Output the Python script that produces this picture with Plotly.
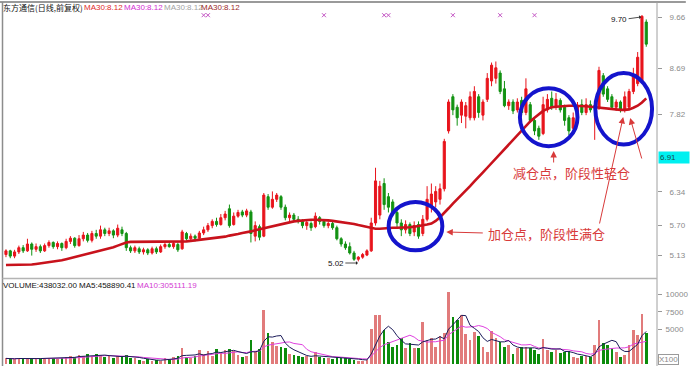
import plotly.graph_objects as go
import pandas as pd

# ---------------- data ----------------
opens = [5.15, 5.22, 5.12, 5.20, 5.28, 5.22, 5.35, 5.25, 5.30, 5.22,
         5.32, 5.38, 5.30, 5.36, 5.28, 5.40, 5.46, 5.32, 5.45, 5.52,
         5.42, 5.55, 5.50, 5.62, 5.55, 5.60, 5.52, 5.62, 5.55, 5.28,
         5.22, 5.26, 5.20, 5.24, 5.18, 5.26, 5.20, 5.30, 5.34, 5.30,
         5.34, 5.26, 5.55, 5.45, 5.50, 5.46, 5.56, 5.62, 5.70, 5.78,
         5.72, 5.85, 6.02, 5.72, 5.88, 5.96, 5.90, 5.96, 5.50, 5.68,
         5.50, 6.25, 6.05, 6.20, 6.25, 6.05, 5.85, 5.90, 5.82, 5.78,
         5.70, 5.74, 5.68, 5.85, 5.78, 5.70, 5.74, 5.66, 5.45, 5.35,
         5.30, 5.18, 5.06, 5.10, 5.14, 5.22, 5.75, 5.90, 6.50, 6.25,
         6.15, 5.95, 5.75, 5.62, 5.72, 5.58, 5.72, 5.55, 5.82, 6.05,
         6.15, 6.20, 6.40, 7.50, 8.15, 7.95, 7.80, 7.78, 7.75, 7.75,
         8.15, 7.80, 8.10, 8.45, 8.50, 8.60, 8.30, 7.98, 8.05, 7.90,
         8.08, 7.85, 8.00, 7.70, 7.55, 7.45, 7.90, 8.12, 7.95, 8.08,
         7.95, 7.75, 7.55, 7.80, 8.00, 7.85, 8.00, 7.95, 7.95, 8.55,
         8.30, 8.15, 7.95, 8.05, 7.90, 7.95, 8.25, 8.40, 8.45, 9.57]
closes = [5.22, 5.12, 5.20, 5.28, 5.22, 5.35, 5.25, 5.30, 5.22, 5.32,
          5.38, 5.30, 5.36, 5.28, 5.40, 5.46, 5.32, 5.45, 5.52, 5.42,
          5.55, 5.50, 5.62, 5.55, 5.60, 5.52, 5.65, 5.55, 5.28, 5.22,
          5.28, 5.20, 5.24, 5.18, 5.26, 5.20, 5.30, 5.34, 5.30, 5.36,
          5.24, 5.58, 5.45, 5.50, 5.46, 5.56, 5.62, 5.70, 5.78, 5.72,
          5.85, 5.92, 5.70, 5.88, 5.95, 5.90, 5.98, 5.55, 5.70, 5.48,
          6.28, 6.05, 6.20, 6.28, 6.05, 5.85, 5.90, 5.82, 5.78, 5.70,
          5.76, 5.66, 5.88, 5.78, 5.70, 5.74, 5.66, 5.45, 5.35, 5.28,
          5.18, 5.06, 5.10, 5.15, 5.22, 5.75, 6.55, 6.45, 6.10, 6.05,
          5.95, 5.75, 5.62, 5.72, 5.55, 5.70, 5.50, 5.82, 6.20, 6.30,
          6.35, 6.40, 7.30, 8.05, 7.90, 7.75, 8.05, 7.98, 8.15, 8.25,
          7.85, 8.05, 8.50, 8.75, 8.70, 8.25, 7.98, 8.05, 7.88, 8.05,
          7.85, 8.30, 7.70, 7.50, 7.40, 8.00, 8.10, 7.95, 8.10, 7.90,
          7.70, 7.50, 7.75, 7.98, 7.85, 8.00, 7.90, 7.98, 8.65, 8.20,
          8.10, 7.95, 8.05, 7.90, 8.15, 8.25, 8.55, 8.90, 9.68, 9.15]
highs = [5.25, 5.24, 5.24, 5.32, 5.33, 5.45, 5.38, 5.36, 5.34, 5.36,
         5.42, 5.40, 5.40, 5.38, 5.45, 5.50, 5.48, 5.52, 5.58, 5.56,
         5.60, 5.62, 5.70, 5.66, 5.66, 5.63, 5.72, 5.68, 5.58, 5.32,
         5.32, 5.30, 5.28, 5.27, 5.30, 5.30, 5.34, 5.38, 5.40, 5.40,
         5.38, 5.62, 5.58, 5.55, 5.53, 5.60, 5.68, 5.75, 5.82, 5.85,
         5.92, 5.98, 6.10, 5.95, 6.00, 6.00, 6.02, 6.00, 5.78, 5.72,
         6.32, 6.30, 6.35, 6.32, 6.28, 6.10, 5.95, 5.94, 5.88, 5.82,
         5.80, 5.78, 5.95, 5.88, 5.80, 5.78, 5.77, 5.70, 5.48, 5.40,
         5.38, 5.22, 5.12, 5.18, 5.25, 5.85, 6.80, 6.55, 6.60, 6.32,
         6.20, 6.05, 5.82, 5.80, 5.76, 5.78, 5.78, 5.90, 6.45, 6.50,
         6.45, 6.50, 7.35, 8.10, 8.20, 8.00, 8.10, 8.05, 8.25, 8.35,
         8.20, 8.10, 8.60, 8.80, 8.82, 8.65, 8.45, 8.10, 8.10, 8.12,
         8.15, 8.50, 8.05, 7.75, 7.60, 8.15, 8.20, 8.25, 8.22, 8.12,
         8.00, 7.80, 7.85, 8.05, 8.10, 8.12, 8.08, 8.02, 8.72, 8.60,
         8.35, 8.20, 8.10, 8.08, 8.25, 8.30, 8.70, 9.00, 9.70, 9.62]
lows = [5.10, 5.08, 5.08, 5.16, 5.18, 5.20, 5.13, 5.20, 5.18, 5.20,
        5.28, 5.26, 5.25, 5.22, 5.25, 5.35, 5.28, 5.30, 5.40, 5.38,
        5.38, 5.45, 5.45, 5.50, 5.50, 5.46, 5.48, 5.50, 5.22, 5.18,
        5.18, 5.16, 5.15, 5.14, 5.15, 5.16, 5.18, 5.26, 5.28, 5.26,
        5.20, 5.24, 5.42, 5.42, 5.40, 5.44, 5.52, 5.58, 5.65, 5.68,
        5.70, 5.80, 5.66, 5.70, 5.85, 5.86, 5.86, 5.38, 5.40, 5.42,
        5.48, 6.00, 6.02, 6.15, 6.00, 5.80, 5.78, 5.78, 5.74, 5.65,
        5.62, 5.60, 5.65, 5.72, 5.66, 5.65, 5.62, 5.42, 5.30, 5.24,
        5.15, 5.03, 5.02, 5.07, 5.12, 5.20, 5.70, 5.82, 6.00, 5.95,
        5.90, 5.65, 5.50, 5.55, 5.50, 5.50, 5.45, 5.50, 5.78, 5.95,
        6.05, 6.10, 6.35, 7.45, 7.80, 7.60, 7.65, 7.55, 7.70, 7.70,
        7.75, 7.70, 8.05, 8.35, 8.40, 8.20, 7.95, 7.90, 7.82, 7.85,
        7.80, 7.80, 7.65, 7.42, 7.33, 7.42, 7.85, 7.90, 7.90, 7.85,
        7.60, 7.42, 7.50, 7.75, 7.80, 7.80, 7.85, 7.33, 7.90, 8.15,
        8.05, 7.90, 7.88, 7.85, 7.85, 7.90, 8.20, 8.35, 8.40, 9.10]
ma30 = [4.95, 4.95, 4.95, 4.95, 4.95, 4.95, 4.96, 4.97, 4.98, 4.99,
        5.00, 5.01, 5.03, 5.04, 5.06, 5.08, 5.10, 5.12, 5.14, 5.16,
        5.18, 5.20, 5.22, 5.24, 5.27, 5.29, 5.32, 5.35, 5.38, 5.39,
        5.39, 5.40, 5.40, 5.40, 5.40, 5.40, 5.40, 5.39, 5.39, 5.39,
        5.39, 5.40, 5.40, 5.41, 5.42, 5.42, 5.43, 5.44, 5.45, 5.46,
        5.48, 5.49, 5.51, 5.52, 5.54, 5.56, 5.57, 5.59, 5.61, 5.63,
        5.65, 5.67, 5.69, 5.71, 5.73, 5.75, 5.77, 5.78, 5.79, 5.80,
        5.81, 5.81, 5.81, 5.81, 5.81, 5.80, 5.79, 5.78, 5.77, 5.76,
        5.75, 5.73, 5.71, 5.69, 5.67, 5.65, 5.64, 5.64, 5.65, 5.65,
        5.66, 5.66, 5.66, 5.67, 5.67, 5.68, 5.69, 5.70, 5.72, 5.74,
        5.79, 5.86, 5.94, 6.03, 6.12, 6.20, 6.29, 6.37, 6.45, 6.54,
        6.62, 6.71, 6.80, 6.89, 6.98, 7.07, 7.16, 7.25, 7.34, 7.43,
        7.52, 7.60, 7.68, 7.75, 7.82, 7.88, 7.92, 7.95, 7.96, 7.97,
        7.98, 7.98, 7.98, 7.98, 7.97, 7.97, 7.96, 7.95, 7.94, 7.93,
        7.92, 7.92, 7.91, 7.90, 7.90, 7.91, 7.94, 7.98, 8.04, 8.12]
volumes = [800, 700, 750, 900, 650, 850, 800, 700, 900, 750,
           850, 800, 700, 900, 950, 1200, 1000, 1300, 1100, 1500,
           1200, 1400, 1300, 1000, 1100, 900, 1200, 1100, 1300, 900,
           800, 600, 500, 700, 400, 600, 500, 800, 700, 1000,
           1200, 2300, 1000, 900, 1100, 2000, 1400, 1800, 1200, 2200,
           1600, 2000, 2100, 1900, 1300, 1000, 1200, 3400, 1800, 2200,
           7700, 4400, 3200, 2600, 2500, 2300, 1500, 1300, 1200, 1000,
           1100, 900, 1700, 1000, 800, 900, 700, 1000, 900, 800,
           700, 600, 500, 500, 600, 5000, 7000, 7000, 4900, 3200,
           2500, 2700, 3700, 2300, 3000, 2300, 2300, 6000, 3400, 3700,
           2500, 4000, 4500, 10300, 6800, 6300, 7000, 4300, 3400, 4600,
           4000, 2500, 1700, 4800, 3700, 3200, 2500, 2700, 1500, 2300,
           2500, 2500, 2300, 2000, 1400, 3600, 2000, 1700, 2000, 1600,
           1700, 1900, 1000, 900, 1100, 1200, 1000, 2700, 6300, 3000,
           2700, 2300, 1700, 1000, 1300, 2700, 4900, 4200, 7200, 4380]
price_ticks = [5.13, 5.70, 6.34, 7.82, 8.69, 9.66]
vol_ticks = [5000, 7500, 10000]
signal_idx = [46, 47, 74, 88, 89, 104, 115, 123]
last_price_label = "6.91"
header_title = "东方通信(日线,前复权)"
ma_labels = ["MA30:8.12", "MA30:8.12", "MA30:8.12", "MA30:8.12"]
vol_header = "VOLUME:438032.00 MA5:458890.41"
vol_ma10_label = "MA10:305111.19"
note_add = "加仓点，阶段性满仓"
note_cut = "减仓点，阶段性轻仓"
low_label = "5.02"
high_label = "9.70"

# ---------------- geometry helpers ----------------
W, H = 690, 366
ML, MR, MT, MB = 3, 29, 3, 2
PW, PH = W - ML - MR, H - MT - MB
XR = [-0.69, 151.5]
YR = [4.704, 9.932]
main_bottom_px = 278


def P(px, py):
    return (px - ML) / PW, (H - MB - py) / PH


idx = list(range(len(opens)))
vol_colors = ['#e17b7b' if c >= o else '#0c8c0c' for o, c in zip(opens, closes)]
vs = pd.Series(volumes, dtype=float)
vol_ma5 = vs.rolling(5, min_periods=1).mean()
vol_ma10 = vs.rolling(10, min_periods=1).mean()

fig = go.Figure()
fig.add_trace(go.Candlestick(
    x=idx, open=opens, high=highs, low=lows, close=closes,
    increasing=dict(line=dict(color='#e8141c', width=1), fillcolor='#e8141c'),
    decreasing=dict(line=dict(color='#129212', width=1), fillcolor='#129212'),
    xaxis='x', yaxis='y', showlegend=False, hoverinfo='skip'))
fig.add_trace(go.Scatter(x=idx, y=ma30, mode='lines',
                         line=dict(color='#c8121c', width=2.6),
                         xaxis='x', yaxis='y', showlegend=False, hoverinfo='skip'))
fig.add_trace(go.Scatter(x=signal_idx, y=[9.70] * len(signal_idx), mode='markers',
                         marker=dict(symbol='x-thin', size=4,
                                     line=dict(width=1, color='#c455c4')),
                         xaxis='x', yaxis='y', showlegend=False, hoverinfo='skip'))
fig.add_trace(go.Bar(x=idx, y=volumes, width=0.62,
                     marker=dict(color=vol_colors, line=dict(width=0)),
                     xaxis='x2', yaxis='y2', showlegend=False, hoverinfo='skip'))
fig.add_trace(go.Scatter(x=idx, y=vol_ma10, mode='lines',
                         line=dict(color='#e040e0', width=1),
                         xaxis='x2', yaxis='y2', showlegend=False, hoverinfo='skip'))
fig.add_trace(go.Scatter(x=idx, y=vol_ma5, mode='lines',
                         line=dict(color='#1c1c5a', width=1),
                         xaxis='x2', yaxis='y2', showlegend=False, hoverinfo='skip'))

main_dom_bottom = (H - MB - main_bottom_px) / PH
vol_dom_top = (H - MB - 280) / PH

axis_common = dict(side='right', ticks='outside', ticklen=4, tickcolor='#999999',
                   tickfont=dict(size=8, color='#8a8a8a', family='Arial'),
                   showgrid=False, zeroline=False, showline=False, fixedrange=True)

fig.update_layout(
    width=W, height=H,
    margin=dict(l=ML, r=MR, t=MT, b=MB),
    paper_bgcolor='white', plot_bgcolor='white',
    showlegend=False, bargap=0,
    xaxis=dict(domain=[0, 1], range=XR, visible=False, anchor='y',
               rangeslider=dict(visible=False), fixedrange=True),
    xaxis2=dict(domain=[0, 1], range=XR, visible=False, anchor='y2',
                matches='x', fixedrange=True),
    yaxis=dict(domain=[main_dom_bottom, 1], range=YR, anchor='x',
               tickvals=price_ticks, ticktext=[f'{v:.2f}' for v in price_ticks],
               ticklabelstandoff=6, **axis_common),
    yaxis2=dict(domain=[0, vol_dom_top], range=[0, 12050], anchor='x2',
                tickvals=vol_ticks, ticktext=[str(v) for v in vol_ticks],
                ticklabelstandoff=2, **axis_common),
)

# ---------------- frame lines ----------------
shapes = []
x0p, _ = P(0, 0)
x1p, _ = P(W, 0)
_, ytop = P(0, 2)
_, ybot = P(0, H)
xr, _ = P(661, 0)
xl, _ = P(2.5, 0)
_, ydiv = P(0, 278.5)
shapes.append(dict(type='line', xref='paper', yref='paper', x0=x0p, x1=x1p, y0=ytop, y1=ytop,
                   line=dict(color='#9a9a9a', width=2)))
shapes.append(dict(type='line', xref='paper', yref='paper', x0=xl, x1=xl, y0=ybot, y1=ytop,
                   line=dict(color='#8c8c8c', width=1.5)))
shapes.append(dict(type='line', xref='paper', yref='paper', x0=xr, x1=xr, y0=ybot, y1=ytop,
                   line=dict(color='#a0a0a0', width=1)))
shapes.append(dict(type='line', xref='paper', yref='paper', x0=xl, x1=xr, y0=ydiv, y1=ydiv,
                   line=dict(color='#b4b4b4', width=1.5)))

# blue circles (centre index, centre price, half width in bars, half height in price)
circles = [(95.3, 5.69, 6.25, 0.46), (126.3, 7.76, 6.7, 0.55), (143.75, 7.92, 6.6, 0.68)]
for cx, cy, hw, hh in circles:
    shapes.append(dict(type='circle', xref='x', yref='y',
                       x0=cx - hw, x1=cx + hw, y0=cy - hh, y1=cy + hh,
                       line=dict(color='#1414cc', width=4)))
fig.update_layout(shapes=shapes)

# ---------------- annotations ----------------
ann = []
font_small = dict(size=8, family='Arial, Noto Sans CJK SC', color='#111111')

hx, hy = P(1, 7.5)
ann.append(dict(xref='paper', yref='paper', x=hx, y=hy, xanchor='left', yanchor='middle',
                text=header_title, showarrow=False,
                font=dict(size=8, family='Noto Sans CJK SC', color='#111111')))
ma_cols = ['#e02a2a', '#d22ed2', '#a3a3a3', '#9c2a2a']
ma_x = [82, 123, 163, 200]
for lab, col, px in zip(ma_labels, ma_cols, ma_x):
    ax_, ay_ = P(px, 7.5)
    ann.append(dict(xref='paper', yref='paper', x=ax_, y=ay_, xanchor='left', yanchor='middle',
                    text=lab, showarrow=False, font=dict(size=8, family='Arial', color=col)))

vx, vy = P(1, 285)
ann.append(dict(xref='paper', yref='paper', x=vx, y=vy, xanchor='left', yanchor='middle',
                text=vol_header, showarrow=False, font=dict(size=8, family='Arial', color='#111111')))
vx2, _ = P(136, 285)
ann.append(dict(xref='paper', yref='paper', x=vx2, y=vy, xanchor='left', yanchor='middle',
                text=vol_ma10_label, showarrow=False, font=dict(size=8, family='Arial', color='#d33cd3')))

# red notes
red = '#d83a3a'
tx, ty = P(550, 233)
ann.append(dict(xref='paper', yref='paper', x=tx, y=ty, xanchor='center', yanchor='middle',
                text=note_add, showarrow=False,
                font=dict(size=13, family='Noto Sans CJK SC', color=red)))
tx, ty = P(575, 172)
ann.append(dict(xref='paper', yref='paper', x=tx, y=ty, xanchor='center', yanchor='middle',
                text=note_cut, showarrow=False,
                font=dict(size=13, family='Noto Sans CJK SC', color=red)))

arrows = [((449, 232), (38, 1)), ((557, 151), (0, 13)),
          ((627, 117), (-24, 108)), ((634, 118), (12, 42))]
for (hxp, hyp), (dx, dy) in arrows:
    ax_, ay_ = P(hxp, hyp)
    ann.append(dict(xref='paper', yref='paper', x=ax_, y=ay_, text='', showarrow=True,
                    ax=dx, ay=dy, arrowcolor=red, arrowwidth=1, arrowhead=2, arrowsize=1.3))

# low / high labels
lx, ly = P(360, 263)
ann.append(dict(xref='paper', yref='paper', x=lx, y=ly, text=low_label, showarrow=True,
                ax=-22, ay=0, arrowcolor='#222222', arrowwidth=0.8, arrowhead=1, arrowsize=0.8,
                font=font_small))
hx2, hy2 = P(645, 17)
ann.append(dict(xref='paper', yref='paper', x=hx2, y=hy2, text=high_label, showarrow=True,
                ax=-22, ay=3, arrowcolor='#222222', arrowwidth=0.8, arrowhead=1, arrowsize=0.8,
                font=font_small))

# last price box
cx_, cy_ = P(662, 157.5)
ann.append(dict(xref='paper', yref='paper', x=cx_, y=cy_, xanchor='left', yanchor='middle',
                text=last_price_label, showarrow=False, bgcolor='#00f0f0', width=28, align='left',
                borderpad=1, font=dict(size=8, family='Arial', color='#1a4a4a')))

# X100 box
bx, by = P(672.5, 359)
ann.append(dict(xref='paper', yref='paper', x=bx, y=by, xanchor='center', yanchor='middle',
                text='X100', showarrow=False,
                bordercolor='#9a9a9a', borderwidth=1, borderpad=0,
                font=dict(size=8, family='Arial', color='#8a8a8a')))

fig.update_layout(annotations=ann)

fig.write_html("out.html")
